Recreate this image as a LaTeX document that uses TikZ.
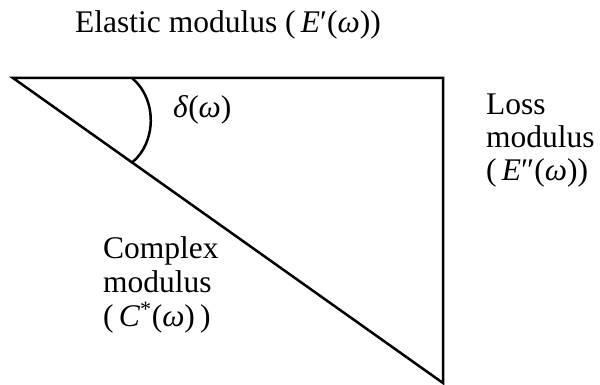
\documentclass[tikz,border=0pt]{standalone}
\usepackage{fontspec}
\setmainfont{Liberation Serif}
\usetikzlibrary{calc}
\tikzset{
  edge/.style={line width=2.5pt, line join=miter},
  lbl/.style={inner sep=0pt, anchor=base west, font=\fontsize{31.5}{35}\selectfont}
}
\begin{document}
\begin{tikzpicture}[x=1pt,y=-1pt]
\useasboundingbox (0,0) rectangle (600,385);
\coordinate (A) at (13,78);
\coordinate (B) at (443,78);
\coordinate (C) at (443,383);
\draw[edge] (A) -- (B) -- (C) -- cycle;
\coordinate (a1) at ($(A)!0.2767!(B)$);
\coordinate (a2) at ($(A)!0.277!(C)$);
\draw[line width=2.5pt] (a1) .. controls (158,100) and (156,143) .. (a2);
\node[lbl] (el) at (75,33) {Elastic modulus (\,\textit{E}′(\textit{ω}))};
\node[lbl] (delta) at (173,118) {\textit{δ}(\textit{ω})};
\node[lbl] (loss1) at (486,115) {Loss};
\node[lbl] (loss2) at (486,148) {modulus};
\node[lbl] (loss3) at (486,180) {(\,\textit{E}″(\textit{ω}))};
\node[lbl] (cx1) at (103,258) {Complex};
\node[lbl] (cx2) at (103,292) {modulus};
\node[lbl] (cx3) at (103,326) {(\,\textit{C}\textsuperscript{*}(\textit{ω})\,)};
\end{tikzpicture}
\end{document}
